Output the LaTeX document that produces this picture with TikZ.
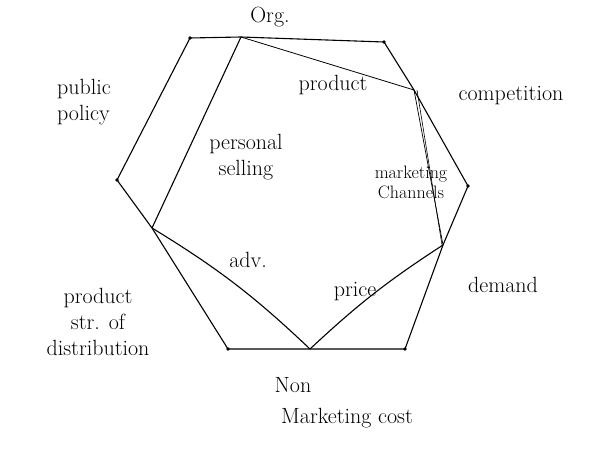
\documentclass[tikz,border=0pt]{standalone}
\usepackage{xcolor}
\usepackage{tikz}
\usetikzlibrary{positioning}

\begin{document}
\begin{tikzpicture}[x=1pt, y=-1pt, line width=1.1pt, line join=round,
    dot/.style={circle, fill, inner sep=1.4pt},
    lbl/.style={font=\fontsize{22}{26}\selectfont, inner sep=1pt, align=center}]
        \useasboundingbox (0,0) rectangle (593,465);

        % corners of the hexagon
        \coordinate (h1) at (190,38);
        \coordinate (h2) at (384,42);
        \coordinate (h3) at (468,186);
        \coordinate (h4) at (405,349);
        \coordinate (h5) at (228,349);
        \coordinate (h6) at (117,180);

        % points on its sides
        \coordinate (org)  at (241,37);
        \coordinate (comp) at (414,90);
        \coordinate (dem)  at (443,245);
        \coordinate (nmc)  at (310,349);
        \coordinate (lp)   at (152,228);

        \draw (h1) -- (org) -- (h2) -- (comp) -- (h3) -- (dem) -- (h4)
              -- (nmc) -- (h5) -- (lp) -- (h6) -- cycle;
        \foreach \p in {h1,h2,h3,h4,h5,h6}
            \node[dot] at (\p) {};

        % inner figure
        \draw (org) -- (lp);
        \draw[line width=0.8pt] (org) -- (comp);
        \draw[line width=0.7pt] (comp) -- (dem);
        \draw[line width=0.6pt] ([xshift=3pt]comp) -- ([xshift=-1pt]dem);
        \draw (lp) to[bend left=6] (nmc);
        \draw (nmc) to[bend left=5] (dem);

        % labels
        \node[lbl] (lorg)  at (270,17)  {Org.};
        \node[lbl, align=left] (lpub) at (84,102) {public\\policy};
        \node[lbl] (lcomp) at (511,96)  {competition};
        \node[lbl] (lprod) at (333,85)  {product};
        \node[lbl] (lpers) at (246,157) {personal\\selling};
        \node[lbl, font=\fontsize{18}{20}\selectfont] (lchan) at (411,182) {marketing\\Channels};
        \node[lbl] (ladv)  at (248,260) {adv.};
        \node[lbl] (lpri)  at (355,292) {price};
        \node[lbl] (ldem)  at (503,285) {demand};
        \node[lbl] (lstr)  at (98,322)  {product\\str. of\\distribution};
        \node[lbl] (lnon)  at (293,385) {Non};
        \node[lbl] (lcost) at (347,418) {Marketing cost};
\end{tikzpicture}
\end{document}
